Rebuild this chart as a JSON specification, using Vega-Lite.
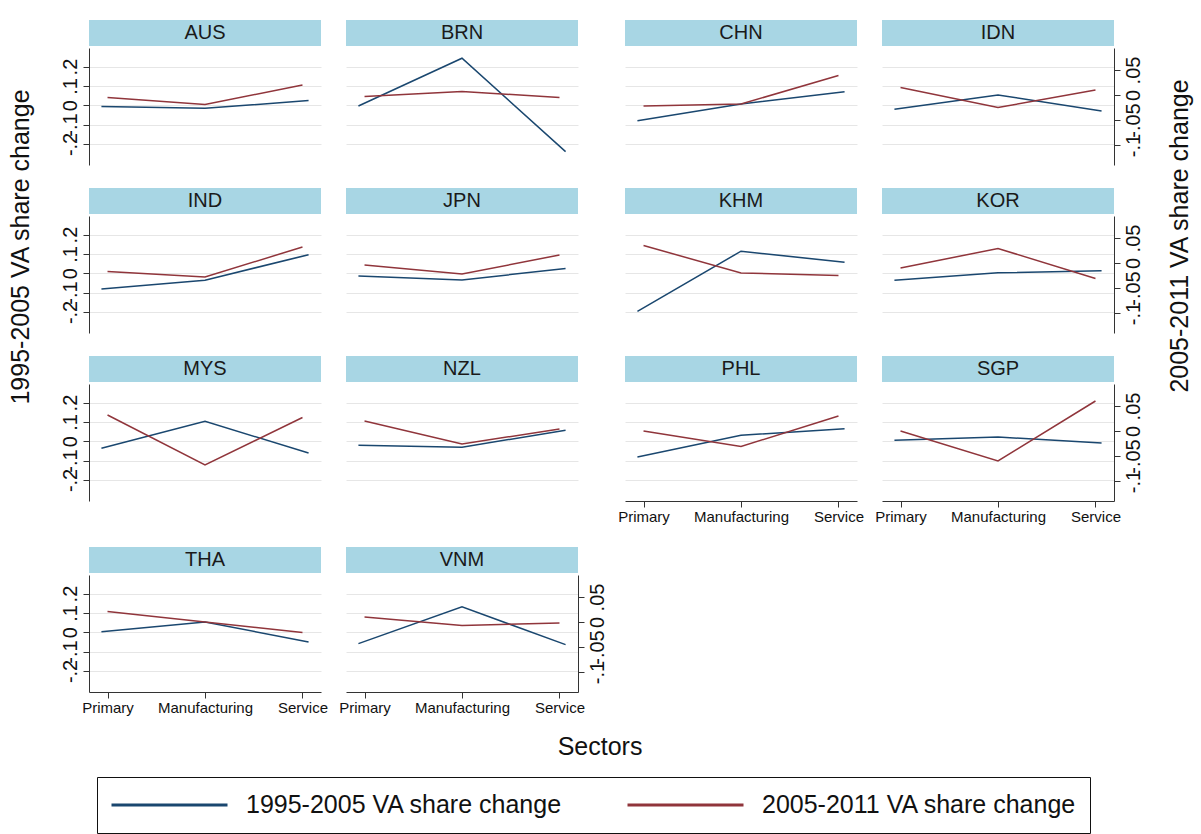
{
"$schema":"https://vega.github.io/schema/vega-lite/v6.json",
"padding":{"left":8,"top":20,"right":4,"bottom":0},
"background":"white",
"datasets":{
"countries":[{"country":"AUS"},{"country":"BRN"},{"country":"CHN"},{"country":"IDN"},{"country":"IND"},{"country":"JPN"},{"country":"KHM"},{"country":"KOR"},{"country":"MYS"},{"country":"NZL"},{"country":"PHL"},{"country":"SGP"},{"country":"THA"},{"country":"VNM"}],
"labels":[{"id":"yl","t":"1995-2005 VA share change"},{"id":"yr","t":"2005-2011 VA share change"},{"id":"x","t":"Sectors"}],
"va":[
{"country":"AUS","sector":"Primary","p1":-0.007,"p2":-0.005},{"country":"AUS","sector":"Manufacturing","p1":-0.016,"p2":-0.019},{"country":"AUS","sector":"Service","p1":0.024,"p2":0.020},
{"country":"BRN","sector":"Primary","p1":-0.004,"p2":-0.003},{"country":"BRN","sector":"Manufacturing","p1":0.243,"p2":0.007},{"country":"BRN","sector":"Service","p1":-0.240,"p2":-0.005},
{"country":"CHN","sector":"Primary","p1":-0.080,"p2":-0.022},{"country":"CHN","sector":"Manufacturing","p1":0.007,"p2":-0.018},{"country":"CHN","sector":"Service","p1":0.070,"p2":0.039},
{"country":"IDN","sector":"Primary","p1":-0.021,"p2":0.015},{"country":"IDN","sector":"Manufacturing","p1":0.053,"p2":-0.025},{"country":"IDN","sector":"Service","p1":-0.030,"p2":0.010},
{"country":"IND","sector":"Primary","p1":-0.081,"p2":-0.017},{"country":"IND","sector":"Manufacturing","p1":-0.036,"p2":-0.028},{"country":"IND","sector":"Service","p1":0.096,"p2":0.032},
{"country":"JPN","sector":"Primary","p1":-0.014,"p2":-0.004},{"country":"JPN","sector":"Manufacturing","p1":-0.035,"p2":-0.022},{"country":"JPN","sector":"Service","p1":0.025,"p2":0.016},
{"country":"KHM","sector":"Primary","p1":-0.197,"p2":0.035},{"country":"KHM","sector":"Manufacturing","p1":0.114,"p2":-0.020},{"country":"KHM","sector":"Service","p1":0.057,"p2":-0.025},
{"country":"KOR","sector":"Primary","p1":-0.036,"p2":-0.010},{"country":"KOR","sector":"Manufacturing","p1":0.002,"p2":0.029},{"country":"KOR","sector":"Service","p1":0.013,"p2":-0.031},
{"country":"MYS","sector":"Primary","p1":-0.036,"p2":0.032},{"country":"MYS","sector":"Manufacturing","p1":0.103,"p2":-0.068},{"country":"MYS","sector":"Service","p1":-0.061,"p2":0.027},
{"country":"NZL","sector":"Primary","p1":-0.021,"p2":0.020},{"country":"NZL","sector":"Manufacturing","p1":-0.031,"p2":-0.026},{"country":"NZL","sector":"Service","p1":0.057,"p2":0.004},
{"country":"PHL","sector":"Primary","p1":-0.081,"p2":0.000},{"country":"PHL","sector":"Manufacturing","p1":0.031,"p2":-0.031},{"country":"PHL","sector":"Service","p1":0.065,"p2":0.030},
{"country":"SGP","sector":"Primary","p1":0.005,"p2":0.000},{"country":"SGP","sector":"Manufacturing","p1":0.022,"p2":-0.060},{"country":"SGP","sector":"Service","p1":-0.009,"p2":0.060},
{"country":"THA","sector":"Primary","p1":0.002,"p2":0.021},{"country":"THA","sector":"Manufacturing","p1":0.053,"p2":0.000},{"country":"THA","sector":"Service","p1":-0.050,"p2":-0.021},
{"country":"VNM","sector":"Primary","p1":-0.059,"p2":0.010},{"country":"VNM","sector":"Manufacturing","p1":0.131,"p2":-0.007},{"country":"VNM","sector":"Service","p1":-0.064,"p2":-0.002}
]},
"spacing":17,
"vconcat":[
{"spacing":24,"hconcat":[
{"width":26,"height":454,"data":{"name":"labels"},"transform":[{"filter":"datum.id==='yl'"}],"mark":{"type":"text","angle":270,"fontSize":25,"color":"#111"},"encoding":{"text":{"field":"t"}}},
{"columns":4,"spacing":{"row":23,"column":10},"align":"each","concat":[
{"spacing":2,"vconcat":[{"width":232,"height":26,"view":{"fill":"#a8d6e4","stroke":null},"data":{"name":"countries"},"transform":[{"filter":"datum.country==='AUS'"}],"mark":{"type":"text","fontSize":20,"color":"#1a1a1a"},"encoding":{"text":{"field":"country"}}},
{"width":232,"height":117,"data":{"name":"va"},"transform":[{"filter":"datum.country==='AUS'"}],"resolve":{"scale":{"x":"independent","y":"independent"}},"layer":[
{"mark":{"type":"line","strokeWidth":1.5},"encoding":{"x":{"field":"sector","type":"ordinal","sort":["Primary","Manufacturing","Service"],"scale":{"type":"point","padding":0.12},"axis":null},"y":{"field":"p1","type":"quantitative","scale":{"domain":[-0.309,0.296],"nice":false,"zero":false},"axis":{"orient":"left","values":[-0.2,-0.1,0,0.1,0.2],"labelExpr":"datum.value==0?'0':(datum.value<0?'-':'')+replace(format(abs(datum.value),'~g'),'0.','.')","labelAngle":-90,"labelAlign":"center","labelBaseline":"bottom","labelFontSize":20,"labelPadding":3,"labelOverlap":false,"tickSize":6,"domain":true,"ticks":true,"grid":true,"title":null}},"color":{"datum":"1995-2005 VA share change","scale":{"domain":["1995-2005 VA share change","2005-2011 VA share change"],"range":["#1a476f","#90353b"]},"legend":{"title":null}}}},
{"mark":{"type":"line","strokeWidth":1.5},"encoding":{"x":{"field":"sector","type":"ordinal","sort":["Primary","Manufacturing","Service"],"scale":{"type":"point","padding":0.19},"axis":null},"y":{"field":"p2","type":"quantitative","scale":{"domain":[-0.14,0.094],"nice":false,"zero":false},"axis":null},"color":{"datum":"2005-2011 VA share change","scale":{"domain":["1995-2005 VA share change","2005-2011 VA share change"],"range":["#1a476f","#90353b"]},"legend":{"title":null}}}}]}]},
{"spacing":2,"vconcat":[{"width":232,"height":26,"view":{"fill":"#a8d6e4","stroke":null},"data":{"name":"countries"},"transform":[{"filter":"datum.country==='BRN'"}],"mark":{"type":"text","fontSize":20,"color":"#1a1a1a"},"encoding":{"text":{"field":"country"}}},
{"width":232,"height":117,"data":{"name":"va"},"transform":[{"filter":"datum.country==='BRN'"}],"resolve":{"scale":{"x":"independent","y":"independent"}},"layer":[
{"mark":{"type":"line","strokeWidth":1.5},"encoding":{"x":{"field":"sector","type":"ordinal","sort":["Primary","Manufacturing","Service"],"scale":{"type":"point","padding":0.12},"axis":null},"y":{"field":"p1","type":"quantitative","scale":{"domain":[-0.309,0.296],"nice":false,"zero":false},"axis":{"values":[-0.2,-0.1,0,0.1,0.2],"grid":true,"domain":false,"ticks":false,"labels":false,"title":null}},"color":{"datum":"1995-2005 VA share change","scale":{"domain":["1995-2005 VA share change","2005-2011 VA share change"],"range":["#1a476f","#90353b"]},"legend":{"title":null}}}},
{"mark":{"type":"line","strokeWidth":1.5},"encoding":{"x":{"field":"sector","type":"ordinal","sort":["Primary","Manufacturing","Service"],"scale":{"type":"point","padding":0.19},"axis":null},"y":{"field":"p2","type":"quantitative","scale":{"domain":[-0.14,0.094],"nice":false,"zero":false},"axis":null},"color":{"datum":"2005-2011 VA share change","scale":{"domain":["1995-2005 VA share change","2005-2011 VA share change"],"range":["#1a476f","#90353b"]},"legend":{"title":null}}}}]}]},
{"spacing":2,"vconcat":[{"width":232,"height":26,"view":{"fill":"#a8d6e4","stroke":null},"data":{"name":"countries"},"transform":[{"filter":"datum.country==='CHN'"}],"mark":{"type":"text","fontSize":20,"color":"#1a1a1a"},"encoding":{"text":{"field":"country"}}},
{"width":232,"height":117,"data":{"name":"va"},"transform":[{"filter":"datum.country==='CHN'"}],"resolve":{"scale":{"x":"independent","y":"independent"}},"layer":[
{"mark":{"type":"line","strokeWidth":1.5},"encoding":{"x":{"field":"sector","type":"ordinal","sort":["Primary","Manufacturing","Service"],"scale":{"type":"point","padding":0.12},"axis":null},"y":{"field":"p1","type":"quantitative","scale":{"domain":[-0.309,0.296],"nice":false,"zero":false},"axis":{"values":[-0.2,-0.1,0,0.1,0.2],"grid":true,"domain":false,"ticks":false,"labels":false,"title":null}},"color":{"datum":"1995-2005 VA share change","scale":{"domain":["1995-2005 VA share change","2005-2011 VA share change"],"range":["#1a476f","#90353b"]},"legend":{"title":null}}}},
{"mark":{"type":"line","strokeWidth":1.5},"encoding":{"x":{"field":"sector","type":"ordinal","sort":["Primary","Manufacturing","Service"],"scale":{"type":"point","padding":0.19},"axis":null},"y":{"field":"p2","type":"quantitative","scale":{"domain":[-0.14,0.094],"nice":false,"zero":false},"axis":null},"color":{"datum":"2005-2011 VA share change","scale":{"domain":["1995-2005 VA share change","2005-2011 VA share change"],"range":["#1a476f","#90353b"]},"legend":{"title":null}}}}]}]},
{"spacing":2,"vconcat":[{"width":232,"height":26,"view":{"fill":"#a8d6e4","stroke":null},"data":{"name":"countries"},"transform":[{"filter":"datum.country==='IDN'"}],"mark":{"type":"text","fontSize":20,"color":"#1a1a1a"},"encoding":{"text":{"field":"country"}}},
{"width":232,"height":117,"data":{"name":"va"},"transform":[{"filter":"datum.country==='IDN'"}],"resolve":{"scale":{"x":"independent","y":"independent"}},"layer":[
{"mark":{"type":"line","strokeWidth":1.5},"encoding":{"x":{"field":"sector","type":"ordinal","sort":["Primary","Manufacturing","Service"],"scale":{"type":"point","padding":0.12},"axis":null},"y":{"field":"p1","type":"quantitative","scale":{"domain":[-0.309,0.296],"nice":false,"zero":false},"axis":{"values":[-0.2,-0.1,0,0.1,0.2],"grid":true,"domain":false,"ticks":false,"labels":false,"title":null}},"color":{"datum":"1995-2005 VA share change","scale":{"domain":["1995-2005 VA share change","2005-2011 VA share change"],"range":["#1a476f","#90353b"]},"legend":{"title":null}}}},
{"mark":{"type":"line","strokeWidth":1.5},"encoding":{"x":{"field":"sector","type":"ordinal","sort":["Primary","Manufacturing","Service"],"scale":{"type":"point","padding":0.19},"axis":null},"y":{"field":"p2","type":"quantitative","scale":{"domain":[-0.14,0.094],"nice":false,"zero":false},"axis":{"orient":"right","values":[-0.1,-0.05,0,0.05],"labelExpr":"datum.value==0?'0':(datum.value<0?'-':'')+replace(format(abs(datum.value),'~g'),'0.','.')","labelAngle":-90,"labelAlign":"center","labelBaseline":"top","labelFontSize":20,"labelPadding":3,"labelOverlap":false,"tickSize":6,"domain":true,"ticks":true,"grid":false,"title":null}},"color":{"datum":"2005-2011 VA share change","scale":{"domain":["1995-2005 VA share change","2005-2011 VA share change"],"range":["#1a476f","#90353b"]},"legend":{"title":null}}}}]}]},
{"spacing":2,"vconcat":[{"width":232,"height":26,"view":{"fill":"#a8d6e4","stroke":null},"data":{"name":"countries"},"transform":[{"filter":"datum.country==='IND'"}],"mark":{"type":"text","fontSize":20,"color":"#1a1a1a"},"encoding":{"text":{"field":"country"}}},
{"width":232,"height":117,"data":{"name":"va"},"transform":[{"filter":"datum.country==='IND'"}],"resolve":{"scale":{"x":"independent","y":"independent"}},"layer":[
{"mark":{"type":"line","strokeWidth":1.5},"encoding":{"x":{"field":"sector","type":"ordinal","sort":["Primary","Manufacturing","Service"],"scale":{"type":"point","padding":0.12},"axis":null},"y":{"field":"p1","type":"quantitative","scale":{"domain":[-0.309,0.296],"nice":false,"zero":false},"axis":{"orient":"left","values":[-0.2,-0.1,0,0.1,0.2],"labelExpr":"datum.value==0?'0':(datum.value<0?'-':'')+replace(format(abs(datum.value),'~g'),'0.','.')","labelAngle":-90,"labelAlign":"center","labelBaseline":"bottom","labelFontSize":20,"labelPadding":3,"labelOverlap":false,"tickSize":6,"domain":true,"ticks":true,"grid":true,"title":null}},"color":{"datum":"1995-2005 VA share change","scale":{"domain":["1995-2005 VA share change","2005-2011 VA share change"],"range":["#1a476f","#90353b"]},"legend":{"title":null}}}},
{"mark":{"type":"line","strokeWidth":1.5},"encoding":{"x":{"field":"sector","type":"ordinal","sort":["Primary","Manufacturing","Service"],"scale":{"type":"point","padding":0.19},"axis":null},"y":{"field":"p2","type":"quantitative","scale":{"domain":[-0.14,0.094],"nice":false,"zero":false},"axis":null},"color":{"datum":"2005-2011 VA share change","scale":{"domain":["1995-2005 VA share change","2005-2011 VA share change"],"range":["#1a476f","#90353b"]},"legend":{"title":null}}}}]}]},
{"spacing":2,"vconcat":[{"width":232,"height":26,"view":{"fill":"#a8d6e4","stroke":null},"data":{"name":"countries"},"transform":[{"filter":"datum.country==='JPN'"}],"mark":{"type":"text","fontSize":20,"color":"#1a1a1a"},"encoding":{"text":{"field":"country"}}},
{"width":232,"height":117,"data":{"name":"va"},"transform":[{"filter":"datum.country==='JPN'"}],"resolve":{"scale":{"x":"independent","y":"independent"}},"layer":[
{"mark":{"type":"line","strokeWidth":1.5},"encoding":{"x":{"field":"sector","type":"ordinal","sort":["Primary","Manufacturing","Service"],"scale":{"type":"point","padding":0.12},"axis":null},"y":{"field":"p1","type":"quantitative","scale":{"domain":[-0.309,0.296],"nice":false,"zero":false},"axis":{"values":[-0.2,-0.1,0,0.1,0.2],"grid":true,"domain":false,"ticks":false,"labels":false,"title":null}},"color":{"datum":"1995-2005 VA share change","scale":{"domain":["1995-2005 VA share change","2005-2011 VA share change"],"range":["#1a476f","#90353b"]},"legend":{"title":null}}}},
{"mark":{"type":"line","strokeWidth":1.5},"encoding":{"x":{"field":"sector","type":"ordinal","sort":["Primary","Manufacturing","Service"],"scale":{"type":"point","padding":0.19},"axis":null},"y":{"field":"p2","type":"quantitative","scale":{"domain":[-0.14,0.094],"nice":false,"zero":false},"axis":null},"color":{"datum":"2005-2011 VA share change","scale":{"domain":["1995-2005 VA share change","2005-2011 VA share change"],"range":["#1a476f","#90353b"]},"legend":{"title":null}}}}]}]},
{"spacing":2,"vconcat":[{"width":232,"height":26,"view":{"fill":"#a8d6e4","stroke":null},"data":{"name":"countries"},"transform":[{"filter":"datum.country==='KHM'"}],"mark":{"type":"text","fontSize":20,"color":"#1a1a1a"},"encoding":{"text":{"field":"country"}}},
{"width":232,"height":117,"data":{"name":"va"},"transform":[{"filter":"datum.country==='KHM'"}],"resolve":{"scale":{"x":"independent","y":"independent"}},"layer":[
{"mark":{"type":"line","strokeWidth":1.5},"encoding":{"x":{"field":"sector","type":"ordinal","sort":["Primary","Manufacturing","Service"],"scale":{"type":"point","padding":0.12},"axis":null},"y":{"field":"p1","type":"quantitative","scale":{"domain":[-0.309,0.296],"nice":false,"zero":false},"axis":{"values":[-0.2,-0.1,0,0.1,0.2],"grid":true,"domain":false,"ticks":false,"labels":false,"title":null}},"color":{"datum":"1995-2005 VA share change","scale":{"domain":["1995-2005 VA share change","2005-2011 VA share change"],"range":["#1a476f","#90353b"]},"legend":{"title":null}}}},
{"mark":{"type":"line","strokeWidth":1.5},"encoding":{"x":{"field":"sector","type":"ordinal","sort":["Primary","Manufacturing","Service"],"scale":{"type":"point","padding":0.19},"axis":null},"y":{"field":"p2","type":"quantitative","scale":{"domain":[-0.14,0.094],"nice":false,"zero":false},"axis":null},"color":{"datum":"2005-2011 VA share change","scale":{"domain":["1995-2005 VA share change","2005-2011 VA share change"],"range":["#1a476f","#90353b"]},"legend":{"title":null}}}}]}]},
{"spacing":2,"vconcat":[{"width":232,"height":26,"view":{"fill":"#a8d6e4","stroke":null},"data":{"name":"countries"},"transform":[{"filter":"datum.country==='KOR'"}],"mark":{"type":"text","fontSize":20,"color":"#1a1a1a"},"encoding":{"text":{"field":"country"}}},
{"width":232,"height":117,"data":{"name":"va"},"transform":[{"filter":"datum.country==='KOR'"}],"resolve":{"scale":{"x":"independent","y":"independent"}},"layer":[
{"mark":{"type":"line","strokeWidth":1.5},"encoding":{"x":{"field":"sector","type":"ordinal","sort":["Primary","Manufacturing","Service"],"scale":{"type":"point","padding":0.12},"axis":null},"y":{"field":"p1","type":"quantitative","scale":{"domain":[-0.309,0.296],"nice":false,"zero":false},"axis":{"values":[-0.2,-0.1,0,0.1,0.2],"grid":true,"domain":false,"ticks":false,"labels":false,"title":null}},"color":{"datum":"1995-2005 VA share change","scale":{"domain":["1995-2005 VA share change","2005-2011 VA share change"],"range":["#1a476f","#90353b"]},"legend":{"title":null}}}},
{"mark":{"type":"line","strokeWidth":1.5},"encoding":{"x":{"field":"sector","type":"ordinal","sort":["Primary","Manufacturing","Service"],"scale":{"type":"point","padding":0.19},"axis":null},"y":{"field":"p2","type":"quantitative","scale":{"domain":[-0.14,0.094],"nice":false,"zero":false},"axis":{"orient":"right","values":[-0.1,-0.05,0,0.05],"labelExpr":"datum.value==0?'0':(datum.value<0?'-':'')+replace(format(abs(datum.value),'~g'),'0.','.')","labelAngle":-90,"labelAlign":"center","labelBaseline":"top","labelFontSize":20,"labelPadding":3,"labelOverlap":false,"tickSize":6,"domain":true,"ticks":true,"grid":false,"title":null}},"color":{"datum":"2005-2011 VA share change","scale":{"domain":["1995-2005 VA share change","2005-2011 VA share change"],"range":["#1a476f","#90353b"]},"legend":{"title":null}}}}]}]},
{"spacing":2,"vconcat":[{"width":232,"height":26,"view":{"fill":"#a8d6e4","stroke":null},"data":{"name":"countries"},"transform":[{"filter":"datum.country==='MYS'"}],"mark":{"type":"text","fontSize":20,"color":"#1a1a1a"},"encoding":{"text":{"field":"country"}}},
{"width":232,"height":117,"data":{"name":"va"},"transform":[{"filter":"datum.country==='MYS'"}],"resolve":{"scale":{"x":"independent","y":"independent"}},"layer":[
{"mark":{"type":"line","strokeWidth":1.5},"encoding":{"x":{"field":"sector","type":"ordinal","sort":["Primary","Manufacturing","Service"],"scale":{"type":"point","padding":0.12},"axis":null},"y":{"field":"p1","type":"quantitative","scale":{"domain":[-0.309,0.296],"nice":false,"zero":false},"axis":{"orient":"left","values":[-0.2,-0.1,0,0.1,0.2],"labelExpr":"datum.value==0?'0':(datum.value<0?'-':'')+replace(format(abs(datum.value),'~g'),'0.','.')","labelAngle":-90,"labelAlign":"center","labelBaseline":"bottom","labelFontSize":20,"labelPadding":3,"labelOverlap":false,"tickSize":6,"domain":true,"ticks":true,"grid":true,"title":null}},"color":{"datum":"1995-2005 VA share change","scale":{"domain":["1995-2005 VA share change","2005-2011 VA share change"],"range":["#1a476f","#90353b"]},"legend":{"title":null}}}},
{"mark":{"type":"line","strokeWidth":1.5},"encoding":{"x":{"field":"sector","type":"ordinal","sort":["Primary","Manufacturing","Service"],"scale":{"type":"point","padding":0.19},"axis":null},"y":{"field":"p2","type":"quantitative","scale":{"domain":[-0.14,0.094],"nice":false,"zero":false},"axis":null},"color":{"datum":"2005-2011 VA share change","scale":{"domain":["1995-2005 VA share change","2005-2011 VA share change"],"range":["#1a476f","#90353b"]},"legend":{"title":null}}}}]}]},
{"spacing":2,"vconcat":[{"width":232,"height":26,"view":{"fill":"#a8d6e4","stroke":null},"data":{"name":"countries"},"transform":[{"filter":"datum.country==='NZL'"}],"mark":{"type":"text","fontSize":20,"color":"#1a1a1a"},"encoding":{"text":{"field":"country"}}},
{"width":232,"height":117,"data":{"name":"va"},"transform":[{"filter":"datum.country==='NZL'"}],"resolve":{"scale":{"x":"independent","y":"independent"}},"layer":[
{"mark":{"type":"line","strokeWidth":1.5},"encoding":{"x":{"field":"sector","type":"ordinal","sort":["Primary","Manufacturing","Service"],"scale":{"type":"point","padding":0.12},"axis":null},"y":{"field":"p1","type":"quantitative","scale":{"domain":[-0.309,0.296],"nice":false,"zero":false},"axis":{"values":[-0.2,-0.1,0,0.1,0.2],"grid":true,"domain":false,"ticks":false,"labels":false,"title":null}},"color":{"datum":"1995-2005 VA share change","scale":{"domain":["1995-2005 VA share change","2005-2011 VA share change"],"range":["#1a476f","#90353b"]},"legend":{"title":null}}}},
{"mark":{"type":"line","strokeWidth":1.5},"encoding":{"x":{"field":"sector","type":"ordinal","sort":["Primary","Manufacturing","Service"],"scale":{"type":"point","padding":0.19},"axis":null},"y":{"field":"p2","type":"quantitative","scale":{"domain":[-0.14,0.094],"nice":false,"zero":false},"axis":null},"color":{"datum":"2005-2011 VA share change","scale":{"domain":["1995-2005 VA share change","2005-2011 VA share change"],"range":["#1a476f","#90353b"]},"legend":{"title":null}}}}]}]},
{"spacing":2,"vconcat":[{"width":232,"height":26,"view":{"fill":"#a8d6e4","stroke":null},"data":{"name":"countries"},"transform":[{"filter":"datum.country==='PHL'"}],"mark":{"type":"text","fontSize":20,"color":"#1a1a1a"},"encoding":{"text":{"field":"country"}}},
{"width":232,"height":117,"data":{"name":"va"},"transform":[{"filter":"datum.country==='PHL'"}],"resolve":{"scale":{"x":"independent","y":"independent"}},"layer":[
{"mark":{"type":"line","strokeWidth":1.5},"encoding":{"x":{"field":"sector","type":"ordinal","sort":["Primary","Manufacturing","Service"],"scale":{"type":"point","padding":0.12},"axis":null},"y":{"field":"p1","type":"quantitative","scale":{"domain":[-0.309,0.296],"nice":false,"zero":false},"axis":{"values":[-0.2,-0.1,0,0.1,0.2],"grid":true,"domain":false,"ticks":false,"labels":false,"title":null}},"color":{"datum":"1995-2005 VA share change","scale":{"domain":["1995-2005 VA share change","2005-2011 VA share change"],"range":["#1a476f","#90353b"]},"legend":{"title":null}}}},
{"mark":{"type":"line","strokeWidth":1.5},"encoding":{"x":{"field":"sector","type":"ordinal","sort":["Primary","Manufacturing","Service"],"scale":{"type":"point","padding":0.19},"axis":{"orient":"bottom","labelAngle":0,"labelFontSize":15,"labelPadding":2,"tickSize":6,"domain":true,"ticks":true,"grid":false,"title":null,"labelOverlap":false}},"y":{"field":"p2","type":"quantitative","scale":{"domain":[-0.14,0.094],"nice":false,"zero":false},"axis":null},"color":{"datum":"2005-2011 VA share change","scale":{"domain":["1995-2005 VA share change","2005-2011 VA share change"],"range":["#1a476f","#90353b"]},"legend":{"title":null}}}}]}]},
{"spacing":2,"vconcat":[{"width":232,"height":26,"view":{"fill":"#a8d6e4","stroke":null},"data":{"name":"countries"},"transform":[{"filter":"datum.country==='SGP'"}],"mark":{"type":"text","fontSize":20,"color":"#1a1a1a"},"encoding":{"text":{"field":"country"}}},
{"width":232,"height":117,"data":{"name":"va"},"transform":[{"filter":"datum.country==='SGP'"}],"resolve":{"scale":{"x":"independent","y":"independent"}},"layer":[
{"mark":{"type":"line","strokeWidth":1.5},"encoding":{"x":{"field":"sector","type":"ordinal","sort":["Primary","Manufacturing","Service"],"scale":{"type":"point","padding":0.12},"axis":null},"y":{"field":"p1","type":"quantitative","scale":{"domain":[-0.309,0.296],"nice":false,"zero":false},"axis":{"values":[-0.2,-0.1,0,0.1,0.2],"grid":true,"domain":false,"ticks":false,"labels":false,"title":null}},"color":{"datum":"1995-2005 VA share change","scale":{"domain":["1995-2005 VA share change","2005-2011 VA share change"],"range":["#1a476f","#90353b"]},"legend":{"title":null}}}},
{"mark":{"type":"line","strokeWidth":1.5},"encoding":{"x":{"field":"sector","type":"ordinal","sort":["Primary","Manufacturing","Service"],"scale":{"type":"point","padding":0.19},"axis":{"orient":"bottom","labelAngle":0,"labelFontSize":15,"labelPadding":2,"tickSize":6,"domain":true,"ticks":true,"grid":false,"title":null,"labelOverlap":false}},"y":{"field":"p2","type":"quantitative","scale":{"domain":[-0.14,0.094],"nice":false,"zero":false},"axis":{"orient":"right","values":[-0.1,-0.05,0,0.05],"labelExpr":"datum.value==0?'0':(datum.value<0?'-':'')+replace(format(abs(datum.value),'~g'),'0.','.')","labelAngle":-90,"labelAlign":"center","labelBaseline":"top","labelFontSize":20,"labelPadding":3,"labelOverlap":false,"tickSize":6,"domain":true,"ticks":true,"grid":false,"title":null}},"color":{"datum":"2005-2011 VA share change","scale":{"domain":["1995-2005 VA share change","2005-2011 VA share change"],"range":["#1a476f","#90353b"]},"legend":{"title":null}}}}]}]},
{"spacing":2,"vconcat":[{"width":232,"height":26,"view":{"fill":"#a8d6e4","stroke":null},"data":{"name":"countries"},"transform":[{"filter":"datum.country==='THA'"}],"mark":{"type":"text","fontSize":20,"color":"#1a1a1a"},"encoding":{"text":{"field":"country"}}},
{"width":232,"height":117,"data":{"name":"va"},"transform":[{"filter":"datum.country==='THA'"}],"resolve":{"scale":{"x":"independent","y":"independent"}},"layer":[
{"mark":{"type":"line","strokeWidth":1.5},"encoding":{"x":{"field":"sector","type":"ordinal","sort":["Primary","Manufacturing","Service"],"scale":{"type":"point","padding":0.12},"axis":null},"y":{"field":"p1","type":"quantitative","scale":{"domain":[-0.309,0.296],"nice":false,"zero":false},"axis":{"orient":"left","values":[-0.2,-0.1,0,0.1,0.2],"labelExpr":"datum.value==0?'0':(datum.value<0?'-':'')+replace(format(abs(datum.value),'~g'),'0.','.')","labelAngle":-90,"labelAlign":"center","labelBaseline":"bottom","labelFontSize":20,"labelPadding":3,"labelOverlap":false,"tickSize":6,"domain":true,"ticks":true,"grid":true,"title":null}},"color":{"datum":"1995-2005 VA share change","scale":{"domain":["1995-2005 VA share change","2005-2011 VA share change"],"range":["#1a476f","#90353b"]},"legend":{"title":null}}}},
{"mark":{"type":"line","strokeWidth":1.5},"encoding":{"x":{"field":"sector","type":"ordinal","sort":["Primary","Manufacturing","Service"],"scale":{"type":"point","padding":0.19},"axis":{"orient":"bottom","labelAngle":0,"labelFontSize":15,"labelPadding":2,"tickSize":6,"domain":true,"ticks":true,"grid":false,"title":null,"labelOverlap":false}},"y":{"field":"p2","type":"quantitative","scale":{"domain":[-0.14,0.094],"nice":false,"zero":false},"axis":null},"color":{"datum":"2005-2011 VA share change","scale":{"domain":["1995-2005 VA share change","2005-2011 VA share change"],"range":["#1a476f","#90353b"]},"legend":{"title":null}}}}]}]},
{"spacing":2,"vconcat":[{"width":232,"height":26,"view":{"fill":"#a8d6e4","stroke":null},"data":{"name":"countries"},"transform":[{"filter":"datum.country==='VNM'"}],"mark":{"type":"text","fontSize":20,"color":"#1a1a1a"},"encoding":{"text":{"field":"country"}}},
{"width":232,"height":117,"data":{"name":"va"},"transform":[{"filter":"datum.country==='VNM'"}],"resolve":{"scale":{"x":"independent","y":"independent"}},"layer":[
{"mark":{"type":"line","strokeWidth":1.5},"encoding":{"x":{"field":"sector","type":"ordinal","sort":["Primary","Manufacturing","Service"],"scale":{"type":"point","padding":0.12},"axis":null},"y":{"field":"p1","type":"quantitative","scale":{"domain":[-0.309,0.296],"nice":false,"zero":false},"axis":{"values":[-0.2,-0.1,0,0.1,0.2],"grid":true,"domain":false,"ticks":false,"labels":false,"title":null}},"color":{"datum":"1995-2005 VA share change","scale":{"domain":["1995-2005 VA share change","2005-2011 VA share change"],"range":["#1a476f","#90353b"]},"legend":{"title":null}}}},
{"mark":{"type":"line","strokeWidth":1.5},"encoding":{"x":{"field":"sector","type":"ordinal","sort":["Primary","Manufacturing","Service"],"scale":{"type":"point","padding":0.19},"axis":{"orient":"bottom","labelAngle":0,"labelFontSize":15,"labelPadding":2,"tickSize":6,"domain":true,"ticks":true,"grid":false,"title":null,"labelOverlap":false}},"y":{"field":"p2","type":"quantitative","scale":{"domain":[-0.14,0.094],"nice":false,"zero":false},"axis":{"orient":"right","values":[-0.1,-0.05,0,0.05],"labelExpr":"datum.value==0?'0':(datum.value<0?'-':'')+replace(format(abs(datum.value),'~g'),'0.','.')","labelAngle":-90,"labelAlign":"center","labelBaseline":"top","labelFontSize":20,"labelPadding":3,"labelOverlap":false,"tickSize":6,"domain":true,"ticks":true,"grid":false,"title":null}},"color":{"datum":"2005-2011 VA share change","scale":{"domain":["1995-2005 VA share change","2005-2011 VA share change"],"range":["#1a476f","#90353b"]},"legend":{"title":null}}}}]}]}
]},
{"width":26,"height":432,"data":{"name":"labels"},"transform":[{"filter":"datum.id==='yr'"}],"mark":{"type":"text","angle":270,"fontSize":25,"color":"#111"},"encoding":{"text":{"field":"t"}}}
]},
{"width":1184,"height":30,"data":{"name":"labels"},"transform":[{"filter":"datum.id==='x'"}],"mark":{"type":"text","fontSize":25,"color":"#111"},"encoding":{"text":{"field":"t"}}}
],
"config":{
"view":{"stroke":null},
"font":"Liberation Sans",
"text":{"font":"Liberation Sans"},
"axis":{"labelFont":"Liberation Sans","labelColor":"#111","domainColor":"#333","tickColor":"#333","gridColor":"#e6e6e6","domainWidth":1,"tickWidth":1},
"legend":{"orient":"none","legendX":89,"legendY":757,"direction":"horizontal","symbolType":"stroke","symbolSize":13456,"symbolStrokeWidth":3,"clipHeight":30,"labelFontSize":25,"labelFont":"Liberation Sans","labelColor":"#111","labelOffset":17,"labelLimit":500,"columnPadding":63,"padding":13,"strokeColor":"#111","fillColor":"#ffffff"}
}
}
